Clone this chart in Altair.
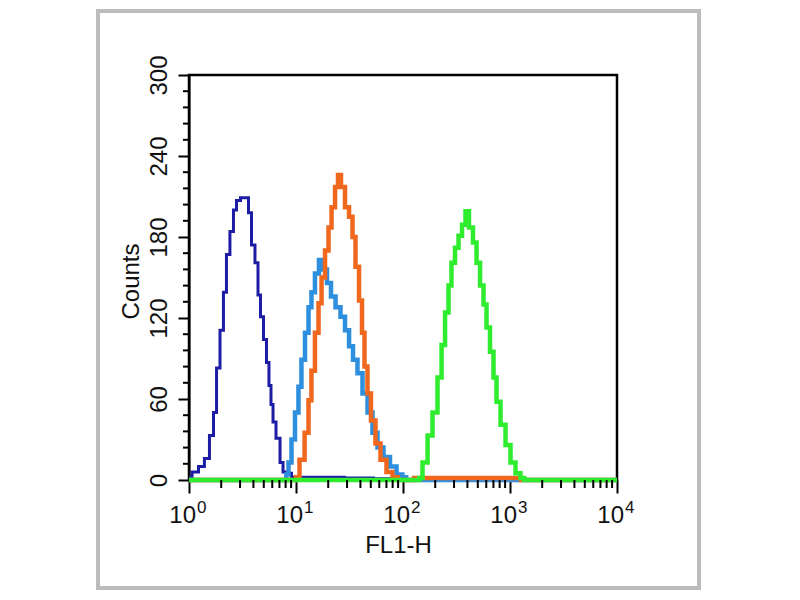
import altair as alt
import pandas as pd

FONT = "Liberation Sans"

# ---- data (FL1-H value, counts) ----
navy_x = [1.0, 1.14, 1.32, 1.47, 1.64, 1.75, 1.87, 2.03, 2.17, 2.31, 2.52, 2.69, 2.87, 3.20, 3.48,
          3.72, 3.96, 4.32, 4.51, 4.81, 5.13, 5.47, 5.71, 5.97, 6.23, 6.79, 7.40, 7.73, 8.24, 10, 20,
          40, 70, 100, 10000]
navy_y = [2, 6, 10, 16, 33, 50, 83, 111, 139, 167, 184, 200, 207, 209, 209,
          198, 174, 161, 137, 121, 104, 87, 70, 56, 43, 31, 13, 6, 5, 2, 2,
          1.5, 1, 0, 0]

lblue_x = [1, 8.0, 8.24, 8.79, 9.38, 10.2, 10.9, 11.6, 12.7, 13.5, 14.4, 15.7, 17.1, 18.7, 20.3,
           22.2, 24.7, 27.5, 30.0, 32.7, 35.6, 39.6, 44.2, 49.2, 54.7, 61.0, 70.8, 80.7, 93.8, 104,
           110, 10000]
lblue_y = [0, 0, 4, 13, 30, 50, 69, 89, 109, 128, 139, 153, 163, 156, 146,
           136, 128, 121, 111, 99, 89, 79, 64, 50, 35, 24, 17, 10, 4, 2,
           0, 0]

orange_x = [1, 9.8, 10.2, 11.4, 12.7, 13.5, 14.4, 15.7, 16.8, 17.9, 19.5, 20.8, 22.2, 24.2, 25.2,
            27.5, 30.0, 32.7, 34.8, 37.2, 40.5, 42.3, 45.1, 48.1, 52.4, 58.4, 65.0, 75.6, 84.2, 95,
            170, 1250, 1300, 10000]
orange_y = [0, 0, 2, 15, 35, 59, 81, 109, 131, 150, 170, 187, 202, 217, 226,
            217, 202, 195, 180, 158, 133, 109, 84, 64, 44, 27, 15, 6, 2, 0,
            1.5, 1.5, 0, 0]

green_x = [1, 140, 144, 161, 179, 199, 222, 237, 258, 275, 293, 320, 341, 372, 396, 432, 471, 503,
           548, 584, 623, 679, 724, 773, 861, 958, 1067, 1188, 1323, 1400, 10000]
green_y = [0, 0, 1.5, 13, 33, 50, 76, 100, 124, 144, 161, 172, 181, 189, 199, 187, 176, 161,
           144, 130, 113, 95, 76, 58, 41, 26, 13, 5, 1.5, 0, 0]

series = [
    ("navy", navy_x, navy_y, "#1c1ca4", 3),
    ("lightblue", lblue_x, lblue_y, "#2e8fdf", 4.5),
    ("orange", orange_x, orange_y, "#f0681e", 4.5),
    ("green", green_x, green_y, "#2fec2f", 4.5),
]

y_major = [0, 60, 120, 180, 240, 300]
y_minor = [v for v in range(12, 300, 12) if v % 60 != 0]
x_major = [1, 10, 100, 1000, 10000]
x_exp = ["0", "1", "2", "3", "4"]
x_minor = [m * 10 ** k for k in range(4) for m in range(2, 10)]

W, H = 428, 405

xscale = alt.Scale(type="log", domain=[1, 10000], nice=False)
yscale = alt.Scale(domain=[0, 300], nice=False, zero=False)

xaxis = alt.Axis(values=x_major, labels=False, grid=False, tickSize=13, tickWidth=2,
                 tickColor="black", domainColor="black", domainWidth=2,
                 title="FL1-H", titleX=209, titleY=72, titleAlign="center",
                 titleBaseline="alphabetic", titleFontSize=24, titleFontWeight="normal",
                 titleFont=FONT, titleColor="#111")
yaxis = alt.Axis(values=y_major, grid=False, tickSize=11, tickWidth=2,
                 tickColor="black", domainColor="black", domainWidth=2,
                 labelAngle=270, labelAlign="center", labelBaseline="alphabetic",
                 labelPadding=12, labelFontSize=24, labelFont=FONT, labelColor="#111",
                 labelOverlap=False, labelFlush=False,
                 title="Counts", titleX=-51, titleY=206, titleAngle=270, titleAlign="center",
                 titleBaseline="alphabetic", titleFontSize=24, titleFontWeight="normal",
                 titleFont=FONT, titleColor="#111")

xenc = alt.X("x:Q", scale=xscale, axis=xaxis)
yenc = alt.Y("y:Q", scale=yscale, axis=yaxis)

layers = []

# outer gray frame of the picture
frame = alt.Chart(pd.DataFrame({"a": [0]})).mark_rect(
    fillOpacity=0, stroke="#bcbcbc", strokeWidth=4
).encode(x=alt.value(-91), x2=alt.value(510), y=alt.value(-64), y2=alt.value(513))
layers.append(frame)

for name, xs, ys, color, w in series:
    df = pd.DataFrame({"x": xs, "y": ys})
    layers.append(
        alt.Chart(df).mark_line(interpolate="step", color=color, strokeWidth=w).encode(x=xenc, y=yenc)
    )

# minor ticks
ymin_df = pd.DataFrame({"y": y_minor})
layers.append(
    alt.Chart(ymin_df).mark_rule(color="black", strokeWidth=2).encode(
        y=yenc, x=alt.value(-6), x2=alt.value(0))
)
xmin_df = pd.DataFrame({"x": x_minor})
layers.append(
    alt.Chart(xmin_df).mark_rule(color="black", strokeWidth=2).encode(
        x=xenc, y=alt.value(H), y2=alt.value(H + 8))
)

# x tick labels 10^k
lab_df = pd.DataFrame({"x": x_major, "exp": x_exp})
layers.append(
    alt.Chart(lab_df).mark_text(text="10", align="right", baseline="alphabetic", dx=7,
                                fontSize=24, font=FONT, color="#111").encode(
        x=xenc, y=alt.value(448))
)
layers.append(
    alt.Chart(lab_df).mark_text(align="left", baseline="alphabetic", dx=8,
                                fontSize=17, font=FONT, color="#111").encode(
        x=xenc, y=alt.value(438), text="exp:N")
)

chart = alt.layer(*layers).properties(
    width=W, height=H,
    background="white",
    autosize=alt.AutoSizeParams(type="none"),
    padding={"left": 181, "top": 67, "right": 95, "bottom": 112},
).configure_view(stroke="black", strokeWidth=2.5)

chart.save("out.html", embed_options={"renderer": "svg", "actions": False})
